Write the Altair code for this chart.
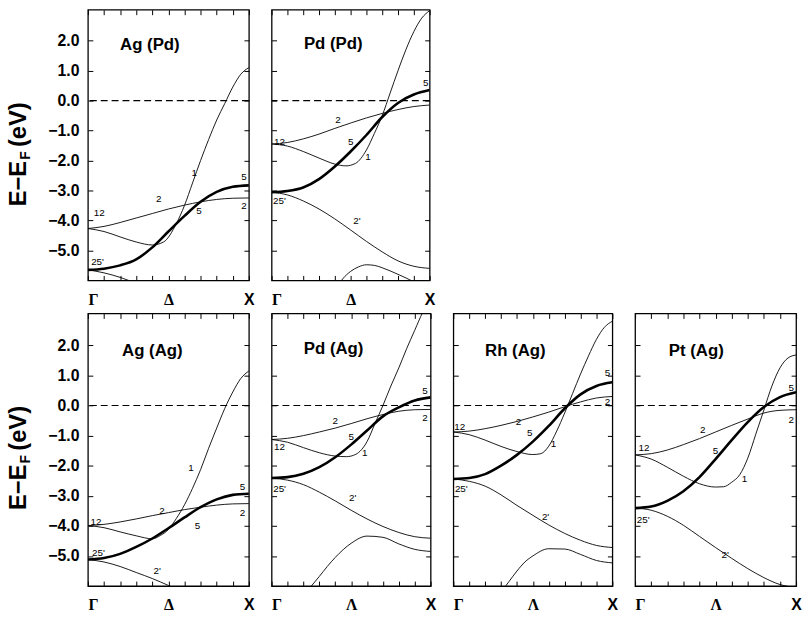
import altair as alt
import pandas as pd

# ---------------- common values ----------------
K11 = [0.0, 0.1, 0.2, 0.3, 0.4, 0.5, 0.6, 0.7, 0.8, 0.9, 1.0]
K_TICKS = [0.0, 0.1, 0.2, 0.3, 0.4, 0.5, 0.6, 0.7, 0.8, 0.9, 1.0]
E_TICKS = [-5, -4, -3, -2, -1, 0, 1, 2]
ZERO = [0.0]
Y_TITLE_MAIN = "E\u2212E"
Y_TITLE_SUB = "F"
Y_TITLE_UNIT = "(eV)"

# ---------------- Ag (Pd) ----------------
AGPD_D5 = [-5.65, -5.61, -5.5, -5.3, -4.9, -4.37, -3.85, -3.38, -3.05, -2.88, -2.83]
AGPD_D2 = [-4.27, -4.2, -4.07, -3.92, -3.77, -3.62, -3.49, -3.38, -3.3, -3.26, -3.25]
AGPD_D1_K = [0, 0.1, 0.2, 0.3, 0.4, 0.47, 0.55, 0.6, 0.65, 0.7, 0.75, 0.8, 0.85, 0.9, 0.95, 1.0]
AGPD_D1 = [-4.27, -4.37, -4.55, -4.72, -4.82, -4.72, -4.1, -3.5, -2.75, -2.0, -1.3, -0.65, -0.1, 0.45, 0.88, 1.1]
AGPD_D2P_K = [0, 0.1, 0.2, 0.3, 0.35]
AGPD_D2P = [-5.65, -5.75, -5.9, -6.1, -6.2]
AGPD_LAB = ["12", "25'", "2", "5", "1", "5", "2"]
AGPD_LAB_K = [0.07, 0.06, 0.44, 0.69, 0.66, 0.97, 0.97]
AGPD_LAB_E = [-3.74, -5.4, -3.3, -3.69, -2.42, -2.55, -3.52]

# ---------------- Pd (Pd) ----------------
PDPD_D5 = [-3.06, -3.02, -2.9, -2.62, -2.2, -1.7, -1.15, -0.55, -0.08, 0.2, 0.35]
PDPD_D2 = [-1.45, -1.4, -1.28, -1.12, -0.93, -0.75, -0.58, -0.43, -0.3, -0.2, -0.15]
PDPD_D1_K = [0, 0.1, 0.2, 0.3, 0.4, 0.47, 0.53, 0.6, 0.65, 0.7, 0.75, 0.8, 0.85, 0.9, 0.95, 1.0]
PDPD_D1 = [-1.45, -1.52, -1.7, -1.92, -2.12, -2.18, -2.1, -1.65, -1.1, -0.5, 0.25, 1.0, 1.7, 2.3, 2.75, 3.0]
PDPD_D2P = [-3.06, -3.15, -3.35, -3.62, -3.95, -4.32, -4.7, -5.05, -5.35, -5.53, -5.6]
PDPD_LOW_K = [0.4, 0.45, 0.5, 0.55, 0.6, 0.65, 0.7, 0.8, 0.9, 0.95]
PDPD_LOW = [-6.35, -5.95, -5.7, -5.55, -5.48, -5.5, -5.58, -5.8, -6.05, -6.2]
PDPD_LAB = ["12", "25'", "2", "5", "1", "2'", "5"]
PDPD_LAB_K = [0.05, 0.05, 0.42, 0.5, 0.61, 0.54, 0.975]
PDPD_LAB_E = [-1.38, -3.36, -0.66, -1.38, -1.87, -4.02, 0.6]

# ---------------- Ag (Ag) ----------------
AGAG_D5 = [-5.12, -5.07, -4.93, -4.7, -4.42, -4.08, -3.72, -3.38, -3.12, -2.97, -2.93]
AGAG_D2 = [-3.99, -3.95, -3.87, -3.77, -3.66, -3.56, -3.46, -3.38, -3.31, -3.27, -3.26]
AGAG_D1_K = [0, 0.1, 0.2, 0.3, 0.4, 0.45, 0.5, 0.55, 0.6, 0.65, 0.7, 0.75, 0.8, 0.85, 0.9, 0.95, 1.0]
AGAG_D1 = [-3.99, -4.06, -4.2, -4.33, -4.43, -4.32, -4.12, -3.75, -3.3, -2.75, -2.13, -1.42, -0.75, -0.1, 0.45, 0.9, 1.15]
AGAG_D2P_K = [0, 0.1, 0.2, 0.3, 0.4, 0.5, 0.55]
AGAG_D2P = [-5.12, -5.2, -5.35, -5.55, -5.75, -5.98, -6.1]
AGAG_LAB = ["12", "25'", "2", "5", "1", "5", "2", "2'"]
AGAG_LAB_K = [0.05, 0.065, 0.46, 0.68, 0.64, 0.96, 0.96, 0.43]
AGAG_LAB_E = [-3.86, -4.89, -3.5, -3.99, -2.08, -2.71, -3.56, -5.5]

# ---------------- Pd (Ag) ----------------
PDAG_D5 = [-2.41, -2.38, -2.27, -2.05, -1.72, -1.3, -0.83, -0.36, -0.06, 0.17, 0.27]
PDAG_D2 = [-1.13, -1.09, -1.0, -0.88, -0.75, -0.6, -0.44, -0.3, -0.19, -0.14, -0.13]
PDAG_D1_K = [0, 0.1, 0.2, 0.3, 0.4, 0.47, 0.53, 0.6, 0.65, 0.7, 0.75, 0.8, 0.85, 0.9, 0.95, 1.0]
PDAG_D1 = [-1.13, -1.22, -1.4, -1.57, -1.68, -1.7, -1.62, -1.2, -0.6, 0.0, 0.65, 1.25, 1.9, 2.5, 3.1, 3.6]
PDAG_D2P = [-2.41, -2.48, -2.63, -2.88, -3.17, -3.48, -3.77, -4.02, -4.22, -4.36, -4.41]
PDAG_LOW_K = [0.2, 0.25, 0.3, 0.35, 0.4, 0.5, 0.6, 0.7, 0.8, 0.9, 1.0]
PDAG_LOW = [-6.3, -6.0, -5.68, -5.35, -5.05, -4.58, -4.34, -4.38, -4.6, -4.78, -4.85]
PDAG_LAB = ["12", "25'", "2", "5", "1", "5", "2", "2'"]
PDAG_LAB_K = [0.05, 0.05, 0.4, 0.5, 0.585, 0.965, 0.965, 0.51]
PDAG_LAB_E = [-1.37, -2.79, -0.51, -1.06, -1.59, 0.47, -0.4, -3.06]

# ---------------- Rh (Ag) ----------------
RHAG_D5 = [-2.44, -2.41, -2.28, -2.0, -1.64, -1.2, -0.68, -0.1, 0.37, 0.65, 0.77]
RHAG_D2 = [-0.88, -0.85, -0.77, -0.66, -0.53, -0.38, -0.22, -0.04, 0.12, 0.25, 0.3]
RHAG_D1_K = [0, 0.1, 0.2, 0.3, 0.4, 0.5, 0.55, 0.6, 0.65, 0.7, 0.75, 0.8, 0.85, 0.9, 0.95, 1.0]
RHAG_D1 = [-0.88, -0.97, -1.15, -1.36, -1.53, -1.63, -1.6, -1.35, -0.85, -0.25, 0.4, 1.05, 1.65, 2.2, 2.6, 2.8]
RHAG_D2P = [-2.44, -2.52, -2.68, -2.97, -3.32, -3.65, -3.97, -4.25, -4.48, -4.65, -4.72]
RHAG_LOW_K = [0.3, 0.35, 0.4, 0.45, 0.5, 0.6, 0.7, 0.8, 0.9, 1.0]
RHAG_LOW = [-6.2, -5.85, -5.5, -5.2, -5.0, -4.76, -4.77, -4.95, -5.15, -5.23]
RHAG_LAB = ["12", "25'", "2", "5", "1", "5", "2", "2'"]
RHAG_LAB_K = [0.04, 0.05, 0.41, 0.48, 0.63, 0.97, 0.97, 0.58]
RHAG_LAB_E = [-0.71, -2.77, -0.55, -0.93, -1.29, 1.09, 0.11, -3.72]

# ---------------- Pt (Ag) ----------------
PTAG_D5 = [-3.41, -3.36, -3.17, -2.85, -2.38, -1.78, -1.15, -0.55, -0.05, 0.28, 0.44]
PTAG_D2 = [-1.64, -1.6, -1.48, -1.3, -1.1, -0.88, -0.66, -0.45, -0.25, -0.16, -0.14]
PTAG_D1_K = [0, 0.1, 0.2, 0.3, 0.4, 0.5, 0.55, 0.6, 0.65, 0.7, 0.75, 0.8, 0.85, 0.9, 0.95, 1.0]
PTAG_D1 = [-1.64, -1.78, -2.05, -2.35, -2.6, -2.71, -2.7, -2.55, -2.3, -1.75, -0.95, -0.15, 0.65, 1.25, 1.58, 1.68]
PTAG_D2P = [-3.41, -3.48, -3.68, -3.98, -4.35, -4.72, -5.08, -5.42, -5.72, -5.95, -6.05]
PTAG_LAB = ["12", "25'", "2", "5", "1", "5", "2", "2'"]
PTAG_LAB_K = [0.055, 0.05, 0.42, 0.5, 0.68, 0.97, 0.97, 0.56]
PTAG_LAB_E = [-1.42, -3.8, -0.82, -1.5, -2.46, 0.58, -0.47, -4.96]

# ---------------- panel titles ----------------
TITLES = ["Ag (Pd)", "Pd (Pd)", "Ag (Ag)", "Pd (Ag)", "Rh (Ag)", "Pt (Ag)"]
TITLE_K = [0.385, 0.39, 0.40, 0.39, 0.39, 0.38]
TITLE_E = [1.85, 1.87, 1.8, 1.86, 1.8, 1.8]
MID_LABELS = ["\u0394", "\u0394", "\u0394", "\u039b", "\u039b", "\u039b"]
TOP_DOMAIN = [-6.0, 3.03]
BOT_DOMAIN = [-6.0, 3.06]

SANS = "Liberation Sans"
SERIF = "Liberation Serif"


def frame(k, e, band):
    return pd.DataFrame({"k": k, "E": e, "band": band})


def panel(idx, thin, thick_e, labs, ydom, width, height, first_col):
    thin_df = pd.concat([frame(k, e, str(i)) for i, (k, e) in enumerate(thin)], ignore_index=True)
    thick_df = frame(K11, thick_e, "5")
    lab_df = pd.DataFrame({"k": labs[1], "E": labs[2], "t": labs[0]})
    ttl_df = pd.DataFrame({"k": [TITLE_K[idx]], "E": [TITLE_E[idx]], "t": [TITLES[idx]]})

    xs = alt.Scale(domain=[0, 1], nice=False, zero=False)
    ys = alt.Scale(domain=ydom, nice=False, zero=False)
    mid = MID_LABELS[idx]
    lab_expr = ("datum.value == 0 ? '\u0393' : datum.value == 0.5 ? '%s' : "
                "datum.value == 1 ? 'X' : ''") % mid

    common = dict(domain=False, grid=False, tickColor="black", tickWidth=1,
                  tickSize=5, offset=-5, title=None)
    x_bottom = alt.Axis(orient="bottom", values=K_TICKS, labelExpr=lab_expr,
                        labelFlush=False, labelOverlap=False,
                        labelAlign=alt.condition("datum.value == 0", alt.value("left"), alt.value("center")),
                        labelFont=alt.condition("datum.value == 1", alt.value(SANS), alt.value(SERIF)),
                        labelFontSize=16, labelFontWeight="bold", labelColor="black",
                        labelPadding=11, **common)
    x_top = alt.Axis(orient="top", values=K_TICKS, labels=False, **common)
    if first_col:
        y_left = alt.Axis(orient="left", values=E_TICKS, format=".1f", labelFont=SANS,
                          labelFontSize=16, labelFontWeight="bold", labelColor="black",
                          labelPadding=9, **common)
    else:
        y_left = alt.Axis(orient="left", values=E_TICKS, labels=False, **common)
    y_right = alt.Axis(orient="right", values=E_TICKS, labels=False, **common)

    thin_layer = alt.Chart(thin_df).mark_line(
        color="black", strokeWidth=0.9, clip=True, interpolate="monotone"
    ).encode(x=alt.X("k:Q", scale=xs, axis=x_bottom),
             y=alt.Y("E:Q", scale=ys, axis=y_left),
             detail="band:N")
    thick_layer = alt.Chart(thick_df).mark_line(
        color="black", strokeWidth=2.6, clip=True, interpolate="monotone"
    ).encode(x=alt.X("k:Q", scale=xs, axis=x_top),
             y=alt.Y("E:Q", scale=ys, axis=y_right))
    zero_layer = alt.Chart(pd.DataFrame({"E": ZERO})).mark_rule(
        color="black", strokeDash=[7, 4], strokeWidth=1.2
    ).encode(y=alt.Y("E:Q", scale=ys, axis=None))
    lab_layer = alt.Chart(lab_df).mark_text(
        font=SANS, fontSize=10, color="black"
    ).encode(x=alt.X("k:Q", scale=xs, axis=None),
             y=alt.Y("E:Q", scale=ys, axis=None), text="t:N")
    ttl_layer = alt.Chart(ttl_df).mark_text(
        font=SANS, fontSize=17, fontWeight="bold", color="black"
    ).encode(x=alt.X("k:Q", scale=xs, axis=None),
             y=alt.Y("E:Q", scale=ys, axis=None), text="t:N")
    layers = [thin_layer, thick_layer, zero_layer, lab_layer, ttl_layer]

    if first_col:
        t1 = alt.Chart(pd.DataFrame({"t": [Y_TITLE_MAIN]})).mark_text(
            font=SANS, fontSize=24, fontWeight="bold", angle=270, align="right",
            baseline="middle", color="black"
        ).encode(x=alt.value(-70), y=alt.value(153), text="t:N")
        t2 = alt.Chart(pd.DataFrame({"t": [Y_TITLE_SUB]})).mark_text(
            font=SANS, fontSize=14, fontWeight="bold", angle=270, align="left",
            baseline="middle", color="black"
        ).encode(x=alt.value(-63), y=alt.value(152), text="t:N")
        t3 = alt.Chart(pd.DataFrame({"t": [Y_TITLE_UNIT]})).mark_text(
            font=SANS, fontSize=24, fontWeight="bold", angle=270, align="left",
            baseline="middle", color="black"
        ).encode(x=alt.value(-70), y=alt.value(139), text="t:N")
        layers += [t1, t2, t3]

    return alt.layer(*layers).resolve_axis(x="independent", y="independent").properties(
        width=width, height=height)


p1 = panel(0, [(K11, AGPD_D2), (AGPD_D1_K, AGPD_D1), (AGPD_D2P_K, AGPD_D2P)], AGPD_D5,
           (AGPD_LAB, AGPD_LAB_K, AGPD_LAB_E), TOP_DOMAIN, 163, 274, True)
p2 = panel(1, [(K11, PDPD_D2), (PDPD_D1_K, PDPD_D1), (K11, PDPD_D2P), (PDPD_LOW_K, PDPD_LOW)], PDPD_D5,
           (PDPD_LAB, PDPD_LAB_K, PDPD_LAB_E), TOP_DOMAIN, 160, 274, False)
p3 = panel(2, [(K11, AGAG_D2), (AGAG_D1_K, AGAG_D1), (AGAG_D2P_K, AGAG_D2P)], AGAG_D5,
           (AGAG_LAB, AGAG_LAB_K, AGAG_LAB_E), BOT_DOMAIN, 163, 276, True)
p4 = panel(3, [(K11, PDAG_D2), (PDAG_D1_K, PDAG_D1), (K11, PDAG_D2P), (PDAG_LOW_K, PDAG_LOW)], PDAG_D5,
           (PDAG_LAB, PDAG_LAB_K, PDAG_LAB_E), BOT_DOMAIN, 161, 276, False)
p5 = panel(4, [(K11, RHAG_D2), (RHAG_D1_K, RHAG_D1), (K11, RHAG_D2P), (RHAG_LOW_K, RHAG_LOW)], RHAG_D5,
           (RHAG_LAB, RHAG_LAB_K, RHAG_LAB_E), BOT_DOMAIN, 161, 276, False)
p6 = panel(5, [(K11, PTAG_D2), (PTAG_D1_K, PTAG_D1), (K11, PTAG_D2P)], PTAG_D5,
           (PTAG_LAB, PTAG_LAB_K, PTAG_LAB_E), BOT_DOMAIN, 163, 276, False)

top = alt.hconcat(p1, p2, spacing=23, bounds="flush")
bottom = alt.hconcat(p3, p4, p5, p6, spacing=23, bounds="flush")
chart = alt.vconcat(top, bottom, spacing=3.5).configure_view(
    stroke="black", strokeWidth=1.3
).properties(padding={"left": 6, "top": 4, "right": 0, "bottom": 0}, background="white")

chart.save("out.html", embed_options={"renderer": "svg", "actions": False})
